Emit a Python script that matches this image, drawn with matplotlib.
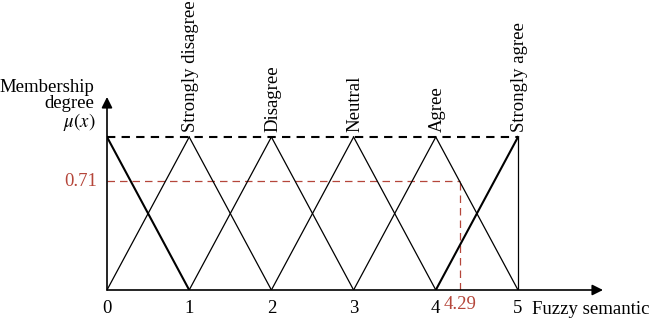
import matplotlib
matplotlib.use("Agg")
import matplotlib.pyplot as plt

plt.rcParams['font.family'] = ['Liberation Serif', 'DejaVu Serif']
plt.rcParams['mathtext.fontset'] = 'stix'

# fuzzy sets: triangle peaks, half width 1
peaks = [0, 1, 2, 3, 4, 5]
peak_labels = ["", "Strongly disagree", "Disagree", "Neutral", "Agree", "Strongly agree"]
xticks = [0, 1, 2, 3, 4, 5]
x_obs = 4.29
mu_obs = 0.71

red = '#b5463a'
fs = 13.5

fig = plt.figure(figsize=(6.5, 3.2), dpi=100)
# axes spans origin -> arrow tips
ax = fig.add_axes([107/650, 30/320, 496/650, 193/320])
ax.set_xlim(0, 496/82.2)
ax.set_ylim(0, 193/153)
for s in ax.spines.values():
    s.set_visible(False)

xmin, xmax = peaks[0], peaks[-1]
for p, lab in zip(peaks, peak_labels):
    xs = [max(p - 1, xmin), p, min(p + 1, xmax)]
    ys = [1 - abs(x - p) for x in xs]
    # left and right edges separately (first/last edges are bold)
    if p > xmin:
        lw = 1.5 if p == xmax else 0.9
        ax.plot(xs[:2], ys[:2], color='k', lw=lw, zorder=3)
    if p < xmax:
        lw = 1.5 if p == xmin else 0.9
        ax.plot(xs[1:], ys[1:], color='k', lw=lw, zorder=3)
    if lab:
        ax.text(p + 0.02, 1.03, lab, rotation=90,
                ha='center', va='bottom', fontsize=fs, clip_on=False)

# top dashed line and right border
ax.plot([xmin, xmax], [1, 1], color='k', lw=1.5, ls=(0, (4, 3)), zorder=3)
ax.plot([xmax, xmax], [0, 1], color='k', lw=0.9, zorder=3)

# observed value
ax.plot([0, x_obs], [mu_obs, mu_obs], color=red, lw=0.9, ls=(0, (6, 4)), zorder=2)
ax.plot([x_obs, x_obs], [0, mu_obs], color=red, lw=0.9, ls=(0, (6, 4)), zorder=2)
ax.text(-0.12, mu_obs, f"{mu_obs:.2f}", color=red, ha='right', va='center', fontsize=fs)
ax.text(x_obs, -0.04, f"{x_obs:.2f}", color=red, ha='center', va='top', fontsize=fs)

# axes with arrows
ax.annotate('', xy=(496/82.2, 0), xytext=(0, 0),
            arrowprops=dict(arrowstyle='-|>', color='k', lw=1.2, mutation_scale=16, shrinkA=0, shrinkB=0))
ax.annotate('', xy=(0, 193/153), xytext=(0, 0),
            arrowprops=dict(arrowstyle='-|>', color='k', lw=1.2, mutation_scale=16, shrinkA=0, shrinkB=0))

ax.set_xticks(xticks)
ax.set_xticklabels([str(t) for t in xticks], fontsize=fs)
ax.tick_params(axis='x', length=0, pad=7)
ax.set_yticks([])

ax.text(5.17, -0.13, "Fuzzy semantic", ha='left', va='center', fontsize=fs)

fig.text(94/650, 1 - 87/320, "Membership", ha='right', va='center', fontsize=fs)
fig.text(94/650, 1 - 104/320, "degree", ha='right', va='center', fontsize=fs)
fig.text(95/650, 1 - 122/320, r"$\mu(x)$", ha='right', va='center', fontsize=fs)

fig.savefig("out.png", dpi=100)
